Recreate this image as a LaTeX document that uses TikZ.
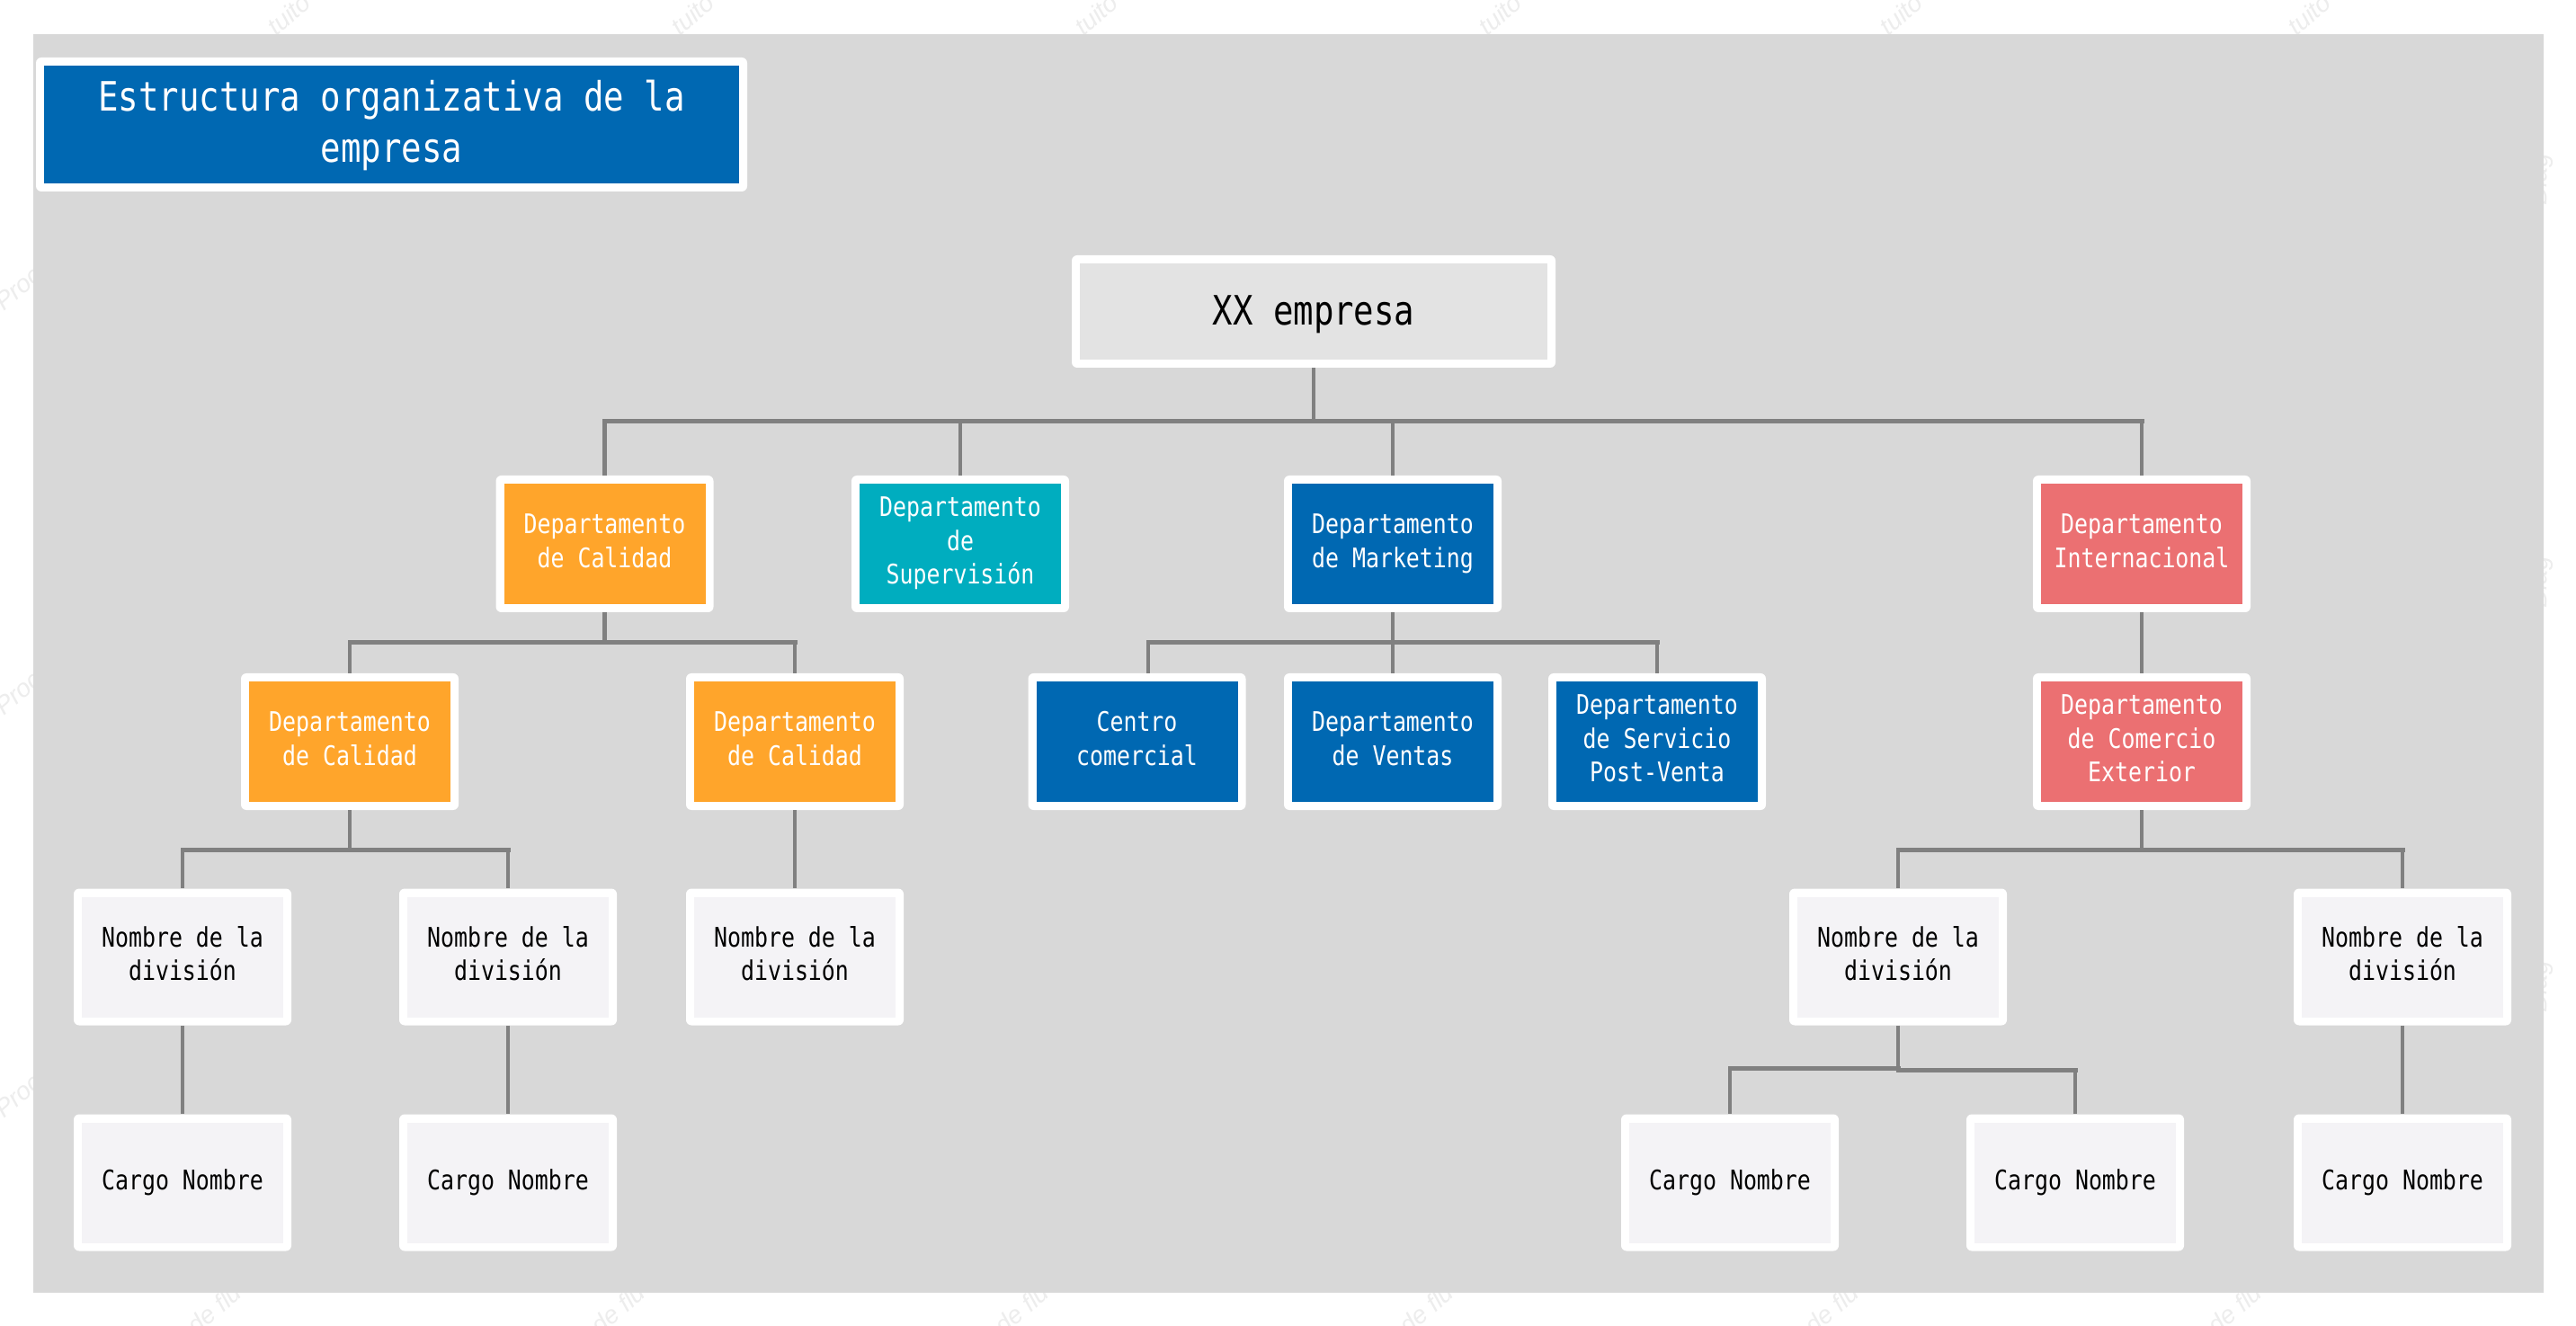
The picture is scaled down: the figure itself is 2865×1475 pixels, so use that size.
\documentclass[tikz,border=0pt]{standalone}
\usepackage{fontspec}
\usepackage{graphicx}
\setmainfont{DejaVu Sans Mono}
\newfontfamily\wmfont{Liberation Sans}
\newcommand{\cardH}{15.5pt}
\newcommand{\cardD}{4pt}
\newcommand{\sx}[1]{\rule[-\cardD]{0pt}{\cardH}\scalebox{0.83}[1]{#1}}
\definecolor{bgG}{HTML}{D8D8D8}
\definecolor{lineG}{HTML}{808080}
\definecolor{blueF}{HTML}{0068B2}
\definecolor{orangeF}{HTML}{FFA52B}
\definecolor{tealF}{HTML}{00ADBF}
\definecolor{redF}{HTML}{EB7072}
\definecolor{paleF}{HTML}{F4F3F6}
\definecolor{rootF}{HTML}{E3E3E3}
\definecolor{wmG}{HTML}{EDEDED}
\tikzset{
  card/.style={rectangle,fill=white,rounded corners=3pt,inner sep=0pt,align=center,
    minimum width=121pt,minimum height=76pt,text=#1,
    font=\fontsize{15pt}{18.75pt}\selectfont},
  inner fill/.style={path picture={
    \fill[#1,sharp corners] ([shift={(9,9)}]path picture bounding box.north west) rectangle
              ([shift={(-9,-9)}]path picture bounding box.south east);}},
  bluebox/.style={card=white,inner fill=blueF},
  orangebox/.style={card=white,inner fill=orangeF},
  tealbox/.style={card=white,inner fill=tealF},
  redbox/.style={card=white,inner fill=redF},
  palebox/.style={card=black,inner fill=paleF},
  conn/.style={draw=lineG,line width=2.2pt},
  bus/.style={draw=lineG,line width=2.5pt,line cap=rect},
  wm/.style={text=wmG,font=\wmfont\itshape\fontsize{14pt}{14pt}\selectfont,rotate=40,anchor=base west,inner sep=0pt}
}
\begin{document}
\begin{tikzpicture}[x=0.5pt,y=-0.5pt]
\useasboundingbox (0,0) rectangle (2865,1475);
\fill[white] (0,0) rectangle (2865,1475);
% faint watermark fragments in the margins
\foreach \i/\x in {0/307,1/756,2/1205,3/1654,4/2100,5/2554}
  \node[wm] (wmT\i) at (\x,41) {tuito};
\foreach \i/\x in {0/218,1/667,2/1116,3/1566,4/2017,5/2465}
  \node[wm] (wmB\i) at (\x,1486) {de flu};
\foreach \i/\y in {0/347,1/797,2/1245}
  \node[wm] (wmL\i) at (4,\y) {Proc};
\foreach \i/\y in {0/229,1/677,2/1127}
  \node[wm,rotate=48] (wmR\i) at (2832,\y) {Diag};
\fill[bgG] (37,38) rectangle (2829,1438);

% title and root
\begingroup
\renewcommand{\cardD}{6pt}
\renewcommand{\cardH}{26pt}
\node[card=white,inner fill=blueF,minimum width=395.5pt,minimum height=74.5pt,
      font=\fontsize{22.5pt}{28.5pt}\selectfont] (title) at (435.5,138.5)
      {\sx{Estructura organizativa de la}\\\sx{empresa}};
\renewcommand{\cardH}{27pt}
\node[card=black,inner fill=rootF,minimum width=269pt,minimum height=62.5pt,
      font=\fontsize{22.5pt}{28.5pt}\selectfont] (root) at (1461,346.5) {\sx{XX empresa}};
\endgroup

% second level
\node[orangebox] (q1) at (672.5,605) {\sx{Departamento}\\\sx{de Calidad}};
\node[tealbox]   (q2) at (1068,605) {\sx{Departamento}\\\sx{de}\\\sx{Supervisión}};
\node[bluebox]   (q3) at (1549,605) {\sx{Departamento}\\\sx{de Marketing}};
\node[redbox]    (q4) at (2382,605) {\sx{Departamento}\\\sx{Internacional}};

% third level
\node[orangebox] (c1) at (389,825) {\sx{Departamento}\\\sx{de Calidad}};
\node[orangebox] (c2) at (884,825) {\sx{Departamento}\\\sx{de Calidad}};
\node[bluebox]   (m1) at (1264.5,825) {\sx{Centro}\\\sx{comercial}};
\node[bluebox]   (m2) at (1549,825) {\sx{Departamento}\\\sx{de Ventas}};
\node[bluebox]   (m3) at (1843,825) {\sx{Departamento}\\\sx{de Servicio}\\\sx{Post-Venta}};
\node[redbox]    (i1) at (2382,825) {\sx{Departamento}\\\sx{de Comercio}\\\sx{Exterior}};

% divisions
\node[palebox] (d1) at (203,1064.5) {\sx{Nombre de la}\\\sx{división}};
\node[palebox] (d2) at (565,1064.5) {\sx{Nombre de la}\\\sx{división}};
\node[palebox] (d3) at (884,1064.5) {\sx{Nombre de la}\\\sx{división}};
\node[palebox] (d4) at (2111,1064.5) {\sx{Nombre de la}\\\sx{división}};
\node[palebox] (d5) at (2672,1064.5) {\sx{Nombre de la}\\\sx{división}};

% positions
\node[palebox] (p1) at (203,1315.5) {\sx{Cargo Nombre}};
\node[palebox] (p2) at (565,1315.5) {\sx{Cargo Nombre}};
\node[palebox] (p3) at (1924,1315.5) {\sx{Cargo Nombre}};
\node[palebox] (p4) at (2308,1315.5) {\sx{Cargo Nombre}};
\node[palebox] (p5) at (2672,1315.5) {\sx{Cargo Nombre}};

% bus levels
\coordinate (busTop) at (1461,469);
\coordinate (busQ) at (672.5,715);
\coordinate (busM) at (1549,715);
\coordinate (mOff) at (1277,715);
\coordinate (busC) at (389,945);
\coordinate (busI) at (2382,945);
\coordinate (busDl) at (2111,1188);
\coordinate (busDr) at (2111,1190);

% connectors
\draw[conn] (root.south) -- (busTop);
\draw[bus] (q1.north |- busTop) -- (q4.north |- busTop);
\foreach \n in {q1,q2,q3,q4} \draw[conn] (\n.north |- busTop) -- (\n.north);

\draw[conn] (q1.south) -- (busQ);
\draw[bus] (c1.north |- busQ) -- (c2.north |- busQ);
\foreach \n in {c1,c2} \draw[conn] (\n.north |- busQ) -- (\n.north);

\draw[conn] (q3.south) -- (busM);
\draw[bus] (mOff) -- (m3.north |- busM);
\draw[conn] (mOff) -- (mOff |- m1.north);
\foreach \n in {m2,m3} \draw[conn] (\n.north |- busM) -- (\n.north);

\draw[conn] (q4.south) -- (i1.north);

\draw[conn] (c1.south) -- (busC);
\draw[bus] (d1.north |- busC) -- (d2.north |- busC);
\foreach \n in {d1,d2} \draw[conn] (\n.north |- busC) -- (\n.north);
\draw[conn] (c2.south) -- (d3.north);

\draw[conn] (i1.south) -- (busI);
\draw[bus] (d4.north |- busI) -- (d5.north |- busI);
\foreach \n in {d4,d5} \draw[conn] (\n.north |- busI) -- (\n.north);

\draw[conn] (d1.south) -- (p1.north);
\draw[conn] (d2.south) -- (p2.north);
\draw[conn] (d5.south) -- (p5.north);
\draw[conn] (d4.south) -- (busDr);
\draw[bus] (p3.north |- busDl) -- (busDl);
\draw[bus] (busDr) -- (p4.north |- busDr);
\draw[conn] (p3.north |- busDl) -- (p3.north);
\draw[conn] (p4.north |- busDr) -- (p4.north);
\end{tikzpicture}
\end{document}
